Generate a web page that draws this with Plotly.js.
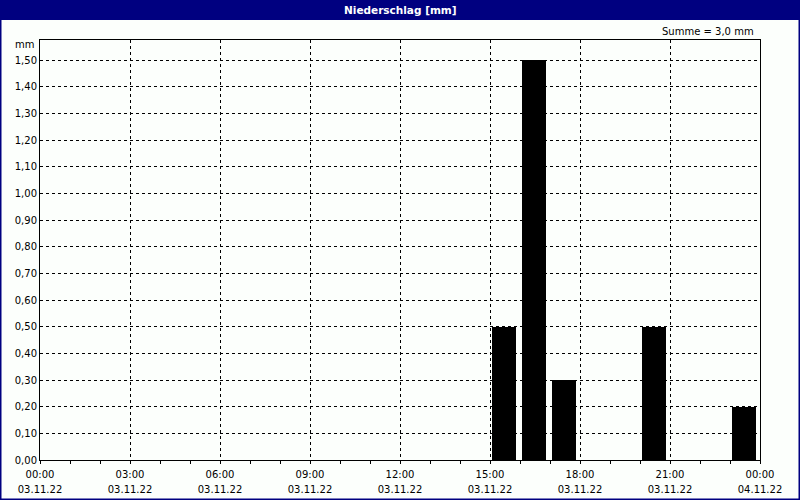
<!DOCTYPE html>
<html>
<head>
<meta charset="utf-8">
<script src="https://cdn.plot.ly/plotly-3.0.1.min.js"></script>
<style>html,body{margin:0;padding:0;background:#fcfffc;}#chart{width:800px;height:500px;}</style>
</head>
<body>
<div id="chart"></div>
<script>
// Data
const barTimes = ["2022-11-03 15:00", "2022-11-03 16:00", "2022-11-03 17:00", "2022-11-03 20:00", "2022-11-03 23:00"];
const barValues = [0.5, 1.5, 0.3, 0.5, 0.2];
const tickTimes = ["2022-11-03 00:00","2022-11-03 03:00","2022-11-03 06:00","2022-11-03 09:00","2022-11-03 12:00","2022-11-03 15:00","2022-11-03 18:00","2022-11-03 21:00","2022-11-04 00:00"];
const tickTimeLabels = ["00:00","03:00","06:00","09:00","12:00","15:00","18:00","21:00","00:00"];
const tickDateLabels = ["03.11.22","03.11.22","03.11.22","03.11.22","03.11.22","03.11.22","03.11.22","03.11.22","04.11.22"];
const titleText = "Niederschlag [mm]";
const unitText = "mm";

const HOUR = 3600000;
const total = barValues.reduce((a,b)=>a+b,0);
const fnt = {family: "DejaVu Sans, Liberation Sans, sans-serif", size: 10, color: "#000"};
const xfnt = {family: "DejaVu Sans, Liberation Sans, sans-serif", size: 11.5, color: "#000"};

const trace = {
  type: "bar",
  x: barTimes,
  y: barValues,
  width: barTimes.map(()=>0.8*HOUR),
  offset: barTimes.map(()=>HOUR/15),
  marker: {color: "#000000", line: {width: 0}},
  hoverinfo: "x+y"
};

const L = 40, R = 40, T = 40, B = 40, W = 800, H = 500;
const pw = W - L - R, ph = H - T - B;
const px = v => (v - L) / pw;
const py = v => (H - B - v) / ph;

const layout = {
  width: W, height: H,
  margin: {l: L, r: R, t: T, b: B},
  paper_bgcolor: "#fcfffc",
  plot_bgcolor: "#fcfffc",
  font: fnt,
  separators: ",.",
  showlegend: false,
  bargap: 0,
  xaxis: {
    type: "date",
    range: ["2022-11-03 00:00", "2022-11-04 00:00"],
    tickvals: tickTimes,
    ticktext: tickTimeLabels.map((t,i)=>"<span style='font-size:10px'>" + t + "</span><br><span style='font-size:10px'>" + tickDateLabels[i] + "</span>"),
    ticks: "outside", ticklen: 3, tickcolor: "#000", tickwidth: 1,
    ticklabelstandoff: 0,
    showgrid: true, gridcolor: "#000", griddash: "3px,3px", gridwidth: 1,
    showline: true, linecolor: "#000", linewidth: 1, mirror: true,
    zeroline: false,
    tickfont: xfnt,
    minor: {dtick: HOUR, ticks: "outside", ticklen: 3, tickcolor: "#000", showgrid: false},
    fixedrange: true
  },
  yaxis: {
    range: [0, 1.575],
    tickvals: [0,0.1,0.2,0.3,0.4,0.5,0.6,0.7,0.8,0.9,1.0,1.1,1.2,1.3,1.4,1.5],
    tickformat: ".2f",
    ticks: "", ticklen: 0,
    showgrid: true, gridcolor: "#000", griddash: "3px,3px", gridwidth: 1,
    showline: true, linecolor: "#000", linewidth: 1, mirror: true,
    zeroline: false,
    tickfont: fnt,
    fixedrange: true
  },
  shapes: [
    {type: "rect", xref: "paper", yref: "paper", x0: px(0), x1: px(W), y0: py(0), y1: py(20),
     fillcolor: "#000080", line: {width: 0}, layer: "below"},
    {type: "rect", xref: "paper", yref: "paper", x0: px(0.5), x1: px(W-0.5), y0: py(0.5), y1: py(H-0.5),
     fillcolor: "rgba(0,0,0,0)", line: {color: "#000080", width: 2}}
  ],
  annotations: [
    {text: "<b>" + titleText + "</b>", xref: "paper", yref: "paper", x: px(400), y: py(10),
     xanchor: "center", yanchor: "middle", showarrow: false,
     font: {family: "DejaVu Sans, sans-serif", size: 10.5, color: "#fff"}},
    {text: "Summe = " + total.toFixed(1).replace(".", ",") + " mm", xref: "paper", yref: "paper",
     x: px(756), y: py(31), xanchor: "right", yanchor: "middle", showarrow: false, font: fnt},
    {text: unitText, xref: "paper", yref: "paper", x: px(36), y: py(45),
     xanchor: "right", yanchor: "middle", showarrow: false, font: fnt}
  ]
};

Plotly.newPlot("chart", [trace], layout, {displayModeBar: false, staticPlot: true});
</script>
</body>
</html>
